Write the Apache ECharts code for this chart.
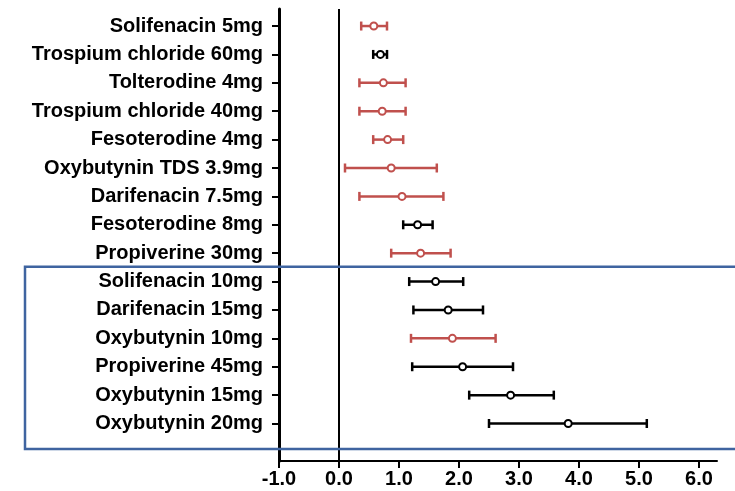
<!DOCTYPE html>
<html>
<head>
<meta charset="utf-8">
<script src="https://cdn.jsdelivr.net/npm/echarts@6/dist/echarts.min.js"></script>
<style>
  html, body { margin: 0; padding: 0; background: #ffffff; }
  #chart { width: 735px; height: 491px; }
</style>
</head>
<body>
<div id="chart"></div>
<script>
// Treatments, listed top to bottom
const categories = [
  'Solifenacin 5mg', 'Trospium chloride 60mg', 'Tolterodine 4mg',
  'Trospium chloride 40mg', 'Fesoterodine 4mg', 'Oxybutynin TDS 3.9mg',
  'Darifenacin 7.5mg', 'Fesoterodine 8mg', 'Propiverine 30mg',
  'Solifenacin 10mg', 'Darifenacin 15mg', 'Oxybutynin 10mg',
  'Propiverine 45mg', 'Oxybutynin 15mg', 'Oxybutynin 20mg'
];
// Point estimate and interval bounds
const estimate = [0.58, 0.69, 0.74, 0.72, 0.81, 0.87, 1.05, 1.31, 1.36, 1.61, 1.82, 1.89, 2.06, 2.86, 3.82];
const lower    = [0.37, 0.57, 0.34, 0.34, 0.57, 0.10, 0.34, 1.07, 0.87, 1.17, 1.24, 1.20, 1.22, 2.17, 2.50];
const upper    = [0.80, 0.80, 1.11, 1.11, 1.07, 1.63, 1.74, 1.56, 1.86, 2.07, 2.40, 2.61, 2.90, 3.58, 5.13];
// 1 = highlighted (red), 0 = plain (black)
const highlight = [1, 0, 1, 1, 1, 1, 1, 0, 1, 0, 0, 1, 0, 0, 0];
// x-axis tick values
const xTicks = [-1, 0, 1, 2, 3, 4, 5, 6];

const RED = '#c0504d';
const BLACK = '#000000';
const BLUE = '#3f64a0';
const FONT = '"Liberation Sans", Arial, sans-serif';

const idx = categories.map((_, i) => i);
const colorOf = i => (highlight[i] ? RED : BLACK);

const intervalData = idx.map(i => ({
  value: [lower[i], upper[i], i],
  itemStyle: { color: colorOf(i) }
}));
const pointData = idx.map(i => ({
  value: [estimate[i], i],
  itemStyle: { borderColor: colorOf(i) }
}));

const chart = echarts.init(document.getElementById('chart'), null, { renderer: 'canvas' });

chart.setOption({
  animation: false,
  backgroundColor: '#ffffff',
  grid: { left: 279, right: 18, top: 9, bottom: 30, containLabel: false },
  xAxis: {
    type: 'value',
    min: -1,
    max: 6.3,
    splitLine: { show: false },
    axisLine: { show: true, onZero: false, lineStyle: { color: BLACK, width: 2 } },
    axisTick: { show: true, length: 7, customValues: xTicks, lineStyle: { color: BLACK, width: 2 } },
    axisLabel: {
      customValues: xTicks,
      margin: 8,
      color: BLACK,
      fontFamily: FONT,
      fontWeight: 'bold',
      fontSize: 20,
      formatter: v => v.toFixed(1)
    }
  },
  yAxis: {
    type: 'value',
    inverse: true,
    min: -0.6,
    max: 15.32,
    splitLine: { show: false },
    axisLine: { show: true, onZero: false, lineStyle: { color: BLACK, width: 3 } },
    axisTick: { show: true, length: 7, customValues: idx, lineStyle: { color: BLACK, width: 2 } },
    axisLabel: {
      customValues: idx,
      margin: 16,
      color: BLACK,
      fontFamily: FONT,
      fontWeight: 'bold',
      fontSize: 20,
      formatter: v => categories[Math.round(v)] || ''
    }
  },
  series: [
    {
      // reference line at zero
      type: 'scatter',
      data: [],
      silent: true,
      markLine: {
        symbol: 'none',
        silent: true,
        label: { show: false },
        lineStyle: { color: BLACK, width: 2, type: 'solid' },
        data: [{ xAxis: 0 }]
      }
    },
    {
      // interval whiskers with end caps
      type: 'custom',
      silent: true,
      data: intervalData,
      encode: { x: [0, 1], y: 2 },
      renderItem: (params, api) => {
        const y = api.value(2);
        const p1 = api.coord([api.value(0), y]);
        const p2 = api.coord([api.value(1), y]);
        const half = 4.5;
        const style = { stroke: api.visual('color'), lineWidth: 2.5 };
        return {
          type: 'group',
          children: [
            { type: 'line', shape: { x1: p1[0], y1: p1[1], x2: p2[0], y2: p2[1] }, style },
            { type: 'line', shape: { x1: p1[0], y1: p1[1] - half, x2: p1[0], y2: p1[1] + half }, style },
            { type: 'line', shape: { x1: p2[0], y1: p2[1] - half, x2: p2[0], y2: p2[1] + half }, style }
          ]
        };
      },
      z: 2
    },
    {
      // point estimates
      type: 'scatter',
      data: pointData,
      symbol: 'circle',
      symbolSize: 7,
      itemStyle: { color: '#ffffff', borderWidth: 2, opacity: 1 },
      z: 3
    }
  ]
});

// Frame around the higher-dose group (rows 10-15)
const boxTop = chart.convertToPixel({ yAxisIndex: 0 }, 8.48);
const boxBottom = chart.convertToPixel({ yAxisIndex: 0 }, 14.9);
chart.setOption({
  graphic: [{
    type: 'rect',
    silent: true,
    shape: { x: 25, y: boxTop, width: 760, height: boxBottom - boxTop },
    style: { fill: 'none', stroke: BLUE, lineWidth: 2.5 },
    z: 10
  }]
});
</script>
</body>
</html>
